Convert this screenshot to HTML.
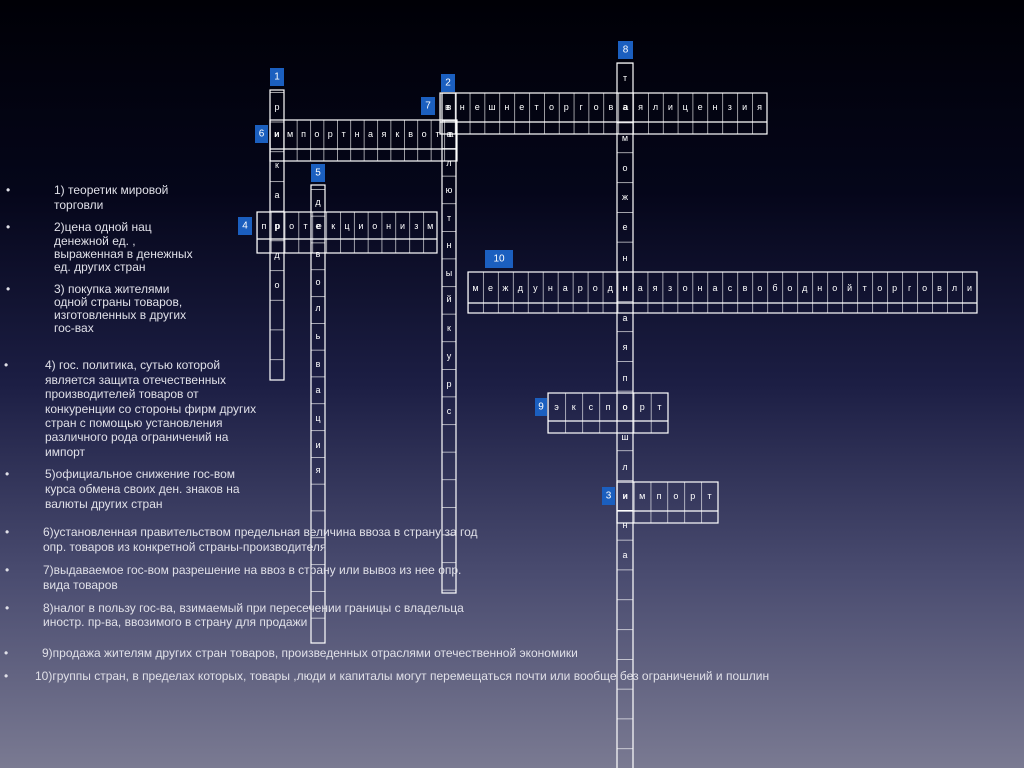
<!DOCTYPE html>
<html><head><meta charset="utf-8"><style>
html,body{margin:0;padding:0;}
body{width:1024px;height:768px;overflow:hidden;background:linear-gradient(180deg,#000006 0%,#05061a 25%,#1c1e44 50%,#4a4c70 75%,#7a7a92 100%);}
svg{display:block;}
.g{fill:none;stroke:#fff;stroke-width:1.2;}
.l{fill:#fff;font-family:"Liberation Sans",sans-serif;font-size:9px;text-anchor:middle;dominant-baseline:central;}
.n{fill:#fff;font-family:"Liberation Sans",sans-serif;font-size:10px;text-anchor:middle;dominant-baseline:central;}
.b{fill:#1b5fbf;}
.c{fill:#e0e0e8;font-family:"Liberation Sans",sans-serif;font-size:12px;}
</style></head><body>
<svg width="1024" height="768" viewBox="0 0 1024 768">
<defs>
<pattern id="p6" patternUnits="userSpaceOnUse" x="270" y="0" width="13.4" height="800"><line x1="0" y1="0" x2="0" y2="800" stroke="#fff" stroke-width="1.2"/></pattern>
<pattern id="p7" patternUnits="userSpaceOnUse" x="440" y="0" width="14.86" height="800"><line x1="0" y1="0" x2="0" y2="800" stroke="#fff" stroke-width="1.2"/></pattern>
<pattern id="p10" patternUnits="userSpaceOnUse" x="468" y="0" width="14.97" height="800"><line x1="0" y1="0" x2="0" y2="800" stroke="#fff" stroke-width="1.2"/></pattern>
<pattern id="p4" patternUnits="userSpaceOnUse" x="257" y="0" width="13.85" height="800"><line x1="0" y1="0" x2="0" y2="800" stroke="#fff" stroke-width="1.2"/></pattern>
<pattern id="p9" patternUnits="userSpaceOnUse" x="548" y="0" width="17.14" height="800"><line x1="0" y1="0" x2="0" y2="800" stroke="#fff" stroke-width="1.2"/></pattern>
<pattern id="p3" patternUnits="userSpaceOnUse" x="617" y="0" width="16.83" height="800"><line x1="0" y1="0" x2="0" y2="800" stroke="#fff" stroke-width="1.2"/></pattern>
<pattern id="v8" patternUnits="userSpaceOnUse" x="0" y="63" width="100" height="29.8"><line x1="0" y1="0" x2="100" y2="0" stroke="#fff" stroke-width="1.2"/></pattern>
<pattern id="v2" patternUnits="userSpaceOnUse" x="0" y="93" width="100" height="27.6"><line x1="0" y1="0" x2="100" y2="0" stroke="#fff" stroke-width="1.2"/></pattern>
<pattern id="v5" patternUnits="userSpaceOnUse" x="0" y="189" width="100" height="26.8"><line x1="0" y1="0" x2="100" y2="0" stroke="#fff" stroke-width="1.2"/></pattern>
<pattern id="v1" patternUnits="userSpaceOnUse" x="0" y="92" width="100" height="29.7"><line x1="0" y1="0" x2="100" y2="0" stroke="#fff" stroke-width="1.2"/></pattern>
</defs>

<rect x="617" y="63" width="16" height="710" fill="url(#v8)"/><rect class="g" x="617" y="63" width="16" height="710"/>
<rect x="442" y="93" width="14" height="500" fill="url(#v2)"/><rect class="g" x="442" y="93" width="14" height="500"/>
<rect x="311" y="185" width="14" height="458" fill="url(#v5)"/><rect class="g" x="311" y="185" width="14" height="458"/>
<rect x="270" y="90" width="14" height="290" fill="url(#v1)"/><rect class="g" x="270" y="90" width="14" height="290"/>

<rect x="270" y="120" width="187" height="41" fill="url(#p6)"/><rect class="g" x="270" y="120" width="187" height="41"/><line class="g" x1="270" y1="149" x2="457" y2="149"/>
<rect x="440" y="93" width="327" height="41" fill="url(#p7)"/><rect class="g" x="440" y="93" width="327" height="41"/><line class="g" x1="440" y1="122" x2="767" y2="122"/>
<rect x="468" y="272" width="509" height="41" fill="url(#p10)"/><rect class="g" x="468" y="272" width="509" height="41"/><line class="g" x1="468" y1="303" x2="977" y2="303"/>
<rect x="257" y="212" width="180" height="41" fill="url(#p4)"/><rect class="g" x="257" y="212" width="180" height="41"/><line class="g" x1="257" y1="239" x2="437" y2="239"/>
<rect x="548" y="393" width="120" height="40" fill="url(#p9)"/><rect class="g" x="548" y="393" width="120" height="40"/><line class="g" x1="548" y1="421" x2="668" y2="421"/>
<rect x="617" y="482" width="101" height="41" fill="url(#p3)"/><rect class="g" x="617" y="482" width="101" height="41"/><line class="g" x1="617" y1="511" x2="718" y2="511"/>

<text class="l" y="134" x="276.7 290.1 303.5 316.9 330.3 343.7 357.1 370.5 383.9 397.3 410.7 424.1 437.5 450.9">импортнаяквота</text>
<text class="l" y="107" x="447.4 462.3 477.2 492 506.9 521.7 536.6 551.5 566.3 581.2 596.1 610.9 625.8 640.6 655.5 670.4 685.2 700.1 715 729.8 744.7 759.6">внешнеторговаялицензия</text>
<text class="l" y="288" x="475.5 490.5 505.4 520.4 535.4 550.4 565.3 580.3 595.3 610.2 625.2 640.2 655.1 670.1 685.1 700 715 730 745 759.9 774.9 789.9 804.8 819.8 834.8 849.7 864.7 879.7 894.6 909.6 924.6 939.5 954.5 969.5">международнаязонасвободнойторговли</text>
<text class="l" y="226" x="263.9 277.8 291.6 305.5 319.3 333.2 347 360.9 374.8 388.6 402.5 416.3 430.2">протекционизм</text>
<text class="l" y="407" x="556.6 573.7 590.9 608 625.1 642.3 659.4">экспорт</text>
<text class="l" y="496" x="625.4 642.2 659.1 675.9 692.7 709.6">импорт</text>

<text class="l" x="277 277 277 277 277 277 277" y="107 134 165 195 226 255 285">рикардо</text>
<text class="l" x="449 449 449 449 449 449 449 449 449 449 449 449" y="107 134 163 190 218 245 273 299 328 356 384 411">валютныйкурс</text>
<text class="l" x="318 318 318 318 318 318 318 318 318 318 318" y="202 226 254 282 308 336 364 390 418 445 470">девольвация</text>
<text class="l" x="625 625 625 625 625 625 625 625 625 625 625 625 625 625 625 625 625" y="78 107 138 168 197 227 258 288 318 347 378 407 437 467 496 525 555">таможеннаяпошлина</text>

<rect class="b" x="270" y="68" width="14" height="18"/><text class="n" x="277" y="77">1</text>
<rect class="b" x="441" y="74" width="14" height="18"/><text class="n" x="448" y="83">2</text>
<rect class="b" x="618" y="41" width="15" height="18"/><text class="n" x="625.5" y="50">8</text>
<rect class="b" x="421" y="97" width="14" height="18"/><text class="n" x="428" y="106">7</text>
<rect class="b" x="255" y="125" width="13" height="18"/><text class="n" x="261.5" y="134">6</text>
<rect class="b" x="311" y="164" width="14" height="18"/><text class="n" x="318" y="173">5</text>
<rect class="b" x="238" y="217" width="14" height="18"/><text class="n" x="245" y="226">4</text>
<rect class="b" x="485" y="250" width="28" height="18"/><text class="n" x="499" y="259">10</text>
<rect class="b" x="535" y="398" width="12" height="18"/><text class="n" x="541" y="407">9</text>
<rect class="b" x="602" y="487" width="13" height="18"/><text class="n" x="608.5" y="496">3</text>

<g class="c">
<text x="6" y="194">•</text>
<text x="54" y="194">1) теоретик мировой</text>
<text x="54" y="209">торговли</text>
<text x="6" y="231">•</text>
<text x="54" y="231">2)цена одной нац</text>
<text x="54" y="245">денежной ед. ,</text>
<text x="54" y="258">выраженная в денежных</text>
<text x="54" y="271">ед. других стран</text>
<text x="6" y="293">•</text>
<text x="54" y="293">3) покупка жителями</text>
<text x="54" y="306">одной страны товаров,</text>
<text x="54" y="319">изготовленных в других</text>
<text x="54" y="332">гос-вах</text>
<text x="4" y="369">•</text>
<text x="45" y="369">4) гос. политика, сутью которой</text>
<text x="45" y="384">является защита отечественных</text>
<text x="45" y="398">производителей товаров от</text>
<text x="45" y="413">конкуренции со стороны фирм других</text>
<text x="45" y="427">стран с помощью установления</text>
<text x="45" y="441">различного рода ограничений на</text>
<text x="45" y="456">импорт</text>
<text x="5" y="478">•</text>
<text x="45" y="478">5)официальное снижение гос-вом</text>
<text x="45" y="493">курса обмена своих ден. знаков на</text>
<text x="45" y="508">валюты других стран</text>
<text x="5" y="536">•</text>
<text x="43" y="536">6)установленная правительством предельная величина ввоза в страну за год</text>
<text x="43" y="551">опр. товаров из конкретной страны-производителя</text>
<text x="5" y="574">•</text>
<text x="43" y="574">7)выдаваемое гос-вом разрешение на ввоз в страну или вывоз из нее опр.</text>
<text x="43" y="589">вида товаров</text>
<text x="5" y="612">•</text>
<text x="43" y="612">8)налог в пользу гос-ва, взимаемый при пересечении границы с владельца</text>
<text x="43" y="626">иностр. пр-ва, ввозимого в страну для продажи</text>
<text x="4" y="657">•</text>
<text x="42" y="657">9)продажа жителям других стран товаров, произведенных отраслями отечественной экономики</text>
<text x="4" y="680">•</text>
<text x="35" y="680">10)группы стран, в пределах которых, товары ,люди и капиталы могут перемещаться почти или вообще без ограничений и пошлин</text>
</g>
</svg>
</body></html>
